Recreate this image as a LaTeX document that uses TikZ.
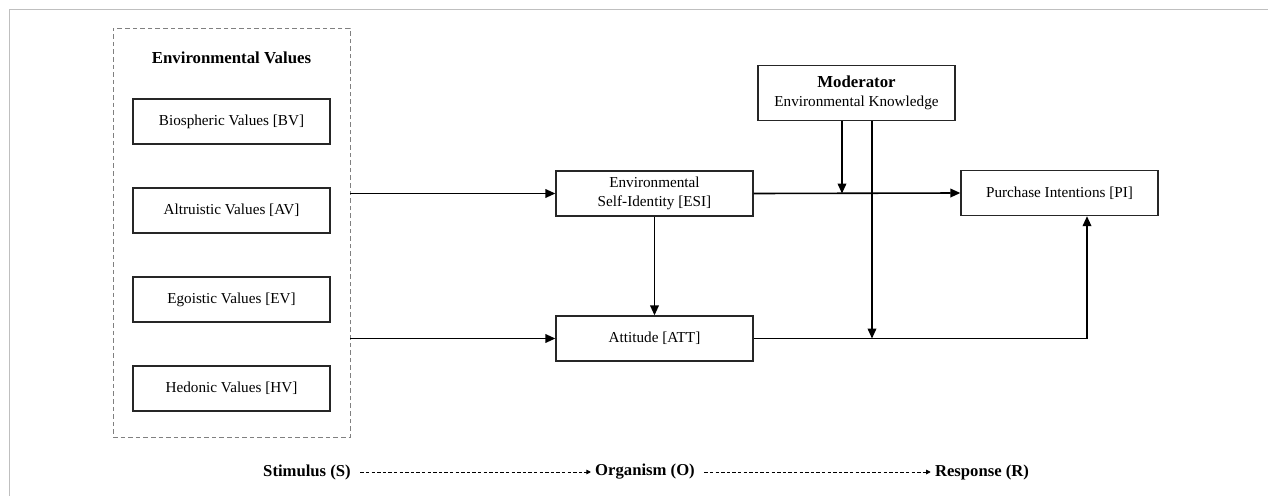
\documentclass[tikz,border=0pt]{standalone}
\usepackage{fontspec}
\setmainfont{Liberation Serif}
\usetikzlibrary{arrows.meta}

\tikzset{
	varbox/.style={draw=black!85, line width=1pt, minimum width=147.75pt, minimum height=33.75pt, align=center, font=\fontsize{11.4}{14.25}\selectfont, inner sep=2pt},
	groupbox/.style={draw=black!50, dash pattern=on 3.5pt off 2.2pt, line width=0.6pt, minimum width=177.75pt, minimum height=306.75pt},
	arr/.style={line width=1.2pt, -{Triangle[length=7.5pt,width=6.5pt]}},
	srolabel/.style={font=\fontsize{12.5}{14}\bfseries\selectfont, inner sep=1pt},
	sroarr/.style={dash pattern=on 2.6pt off 1.6pt, line width=0.7pt, -{Triangle[length=3.5pt,width=3.5pt]}}
}

\begin{document}
\begin{tikzpicture}[x=0.75pt,y=-0.75pt]
	\useasboundingbox (0,0) rectangle (1268,496);
	\draw[black!25, line width=1pt] (9.5,496) -- (9.5,9.5) -- (1268,9.5);

	% stimulus block
	\node[groupbox] (grp) at (231.5,232.5) {};
	\node[font=\fontsize{12.6}{14}\bfseries\selectfont] (evtitle) at (231.5,58) {Environmental Values};
	\node[varbox] (bv) at (231.5,121.5) {Biospheric Values [BV]};
	\node[varbox] (av) at (231.5,210.5) {Altruistic Values [AV]};
	\node[varbox] (ev) at (231.5,299.5) {Egoistic Values [EV]};
	\node[varbox] (hv) at (231.5,388.5) {Hedonic Values [HV]};

	% organism and response
	\node[varbox] (esi) at (654.5,193.5) {Environmental\\Self-Identity [ESI]};
	\node[varbox] (att) at (654.5,338.5) {Attitude [ATT]};
	\node[varbox] (pi) at (1059.5,193) {Purchase Intentions [PI]};
	\node[varbox, minimum height=41.25pt] (mod) at (856.5,93) {\fontsize{12.6}{14.25}\bfseries\selectfont Moderator\\Environmental Knowledge};

	\coordinate (m1) at (842,193.5);
	\coordinate (m2) at (872,338.5);
	\coordinate (m3) at (1087,338.5);

	\draw[arr] (esi.west -| grp.east) -- (esi.west);
	\draw[arr] (att.west -| grp.east) -- (att.west);
	\draw[arr] (esi) -- (att);
	\draw[arr] (esi.east) -- (pi.west);
	\draw[arr] (mod.south -| m1) -- (m1);
	\draw[arr] (mod.south -| m2) -- (m2);
	\draw[arr] (att.east) -- (m3) -- (m3 |- pi.south);

	% S-O-R
	\node[srolabel] (stim) at (307,472) {Stimulus (S)};
	\node[srolabel] (org) at (645,472) {Organism (O)};
	\node[srolabel] (resp) at (982,472) {Response (R)};
	\draw[sroarr] ([xshift=6pt]stim.east) -- ([xshift=-2pt]org.west);
	\draw[sroarr] ([xshift=6pt]org.east) -- ([xshift=-2pt]resp.west);
\end{tikzpicture}
\end{document}
